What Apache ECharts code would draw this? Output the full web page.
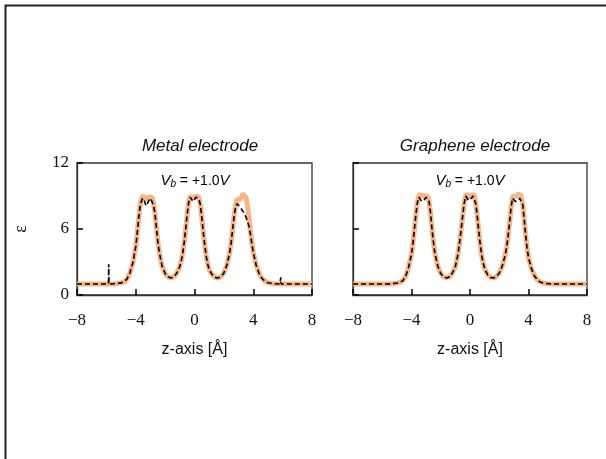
<!DOCTYPE html>
<html>
<head>
<meta charset="utf-8">
<script src="https://cdn.jsdelivr.net/npm/echarts@6/dist/echarts.min.js"></script>
<style>html,body{margin:0;padding:0;background:#fff;}#c{width:606px;height:459px;}</style>
</head>
<body>
<div id="c"></div>
<script>
// z grid (Å)
var z = [-8.0,-7.0,-6.0,-5.86,-5.84,-5.82,-5.7,-5.4,-5.0,-4.8,-4.6,-4.4,-4.2,-4.0,-3.9,-3.8,-3.7,-3.6,-3.5,-3.4,-3.3,-3.2,-3.1,-3.0,-2.9,-2.8,-2.7,-2.6,-2.5,-2.4,-2.2,-2.0,-1.8,-1.6,-1.4,-1.2,-1.0,-0.9,-0.8,-0.7,-0.6,-0.5,-0.4,-0.3,-0.2,-0.1,0.0,0.1,0.2,0.3,0.4,0.5,0.6,0.7,0.8,0.9,1.0,1.2,1.4,1.6,1.8,2.0,2.2,2.4,2.5,2.6,2.7,2.8,2.9,3.0,3.1,3.2,3.3,3.4,3.5,3.6,3.7,3.8,3.9,4.0,4.2,4.4,4.6,4.8,5.0,5.4,5.8,5.86,5.88,5.9,6.0,7.0,8.0];

// Metal electrode, reference (orange)
var metalRef = [1.0,1.0,1.0,1.0,1.0,1.0,1.0,1.02,
  1.1,1.2,1.45,2.0,2.9,4.4,5.6,7.0,8.1,8.8,9.0,8.9,8.7,8.7,8.9,9.0,8.9,8.4,7.5,6.2,4.9,3.9,2.6,1.95,
  1.65,1.55,1.65,2.0,2.6,3.1,3.8,4.8,6.0,7.3,8.4,9.0,9.1,8.8,8.8,9.0,9.1,8.9,8.2,7.0,5.7,4.5,3.5,2.8,2.3,1.85,
  1.6,1.55,1.65,2.0,2.7,3.9,4.8,6.0,7.2,8.2,8.7,8.8,8.7,8.9,9.2,9.2,8.9,8.2,7.1,5.9,4.8,3.9,2.7,1.95,1.5,1.25,1.12,1.03,
  1.0,1.0,1.0,1.0,1.0,1.0,1.0];
// Metal electrode, dashed (black)
var metalDash = [1.0,1.0,1.0,1.0,2.8,1.0,1.0,1.02,
  1.1,1.2,1.45,2.0,2.9,4.4,5.6,7.0,8.1,8.6,8.8,8.5,8.1,8.2,8.6,8.8,8.7,8.2,7.5,6.2,4.9,3.9,2.6,1.95,
  1.65,1.55,1.65,2.0,2.6,3.1,3.8,4.8,6.0,7.3,8.4,8.9,8.9,8.5,8.6,8.9,8.9,8.7,8.2,7.0,5.7,4.5,3.5,2.8,2.3,1.85,
  1.6,1.55,1.65,2.0,2.7,3.9,4.8,6.0,7.2,8.0,8.3,8.2,8.0,7.8,7.6,7.4,7.1,6.7,6.3,5.6,4.7,3.9,2.7,1.95,1.5,1.25,1.12,1.03,
  1.0,1.0,1.6,1.0,1.0,1.0,1.0];

// Graphene electrode, reference (orange)
var grapheneRef = [1.0,1.0,1.0,1.0,1.0,1.0,1.0,1.02,
  1.08,1.15,1.3,1.7,2.5,3.7,4.7,6.0,7.3,8.4,9.0,9.2,9.0,8.9,9.0,9.1,9.0,8.5,7.5,6.0,4.8,3.8,2.6,1.95,
  1.65,1.55,1.65,2.0,2.6,3.2,3.9,4.9,6.0,7.2,8.3,9.0,9.2,9.0,8.9,9.0,9.2,9.0,8.3,7.1,5.8,4.6,3.6,2.9,2.4,1.85,
  1.6,1.55,1.65,2.0,2.6,3.6,4.3,5.3,6.5,7.8,8.8,9.1,8.9,8.9,9.2,9.3,9.0,8.3,7.0,5.5,4.3,3.4,2.4,1.75,1.38,1.18,1.08,1.02,
  1.0,1.0,1.0,1.0,1.0,1.0,1.0];
// Graphene electrode, dashed (black)
var grapheneDash = [1.0,1.0,1.0,1.0,1.0,1.0,1.0,1.02,
  1.08,1.15,1.3,1.7,2.5,3.7,4.7,6.0,7.3,8.4,8.9,9.0,8.5,8.4,8.7,8.9,8.9,8.5,7.5,6.0,4.8,3.8,2.6,1.95,
  1.65,1.55,1.65,2.0,2.6,3.2,3.9,4.9,6.0,7.2,8.3,9.0,9.0,8.6,8.5,8.8,9.0,8.9,8.3,7.1,5.8,4.6,3.6,2.9,2.4,1.85,
  1.6,1.55,1.65,2.0,2.6,3.6,4.3,5.3,6.5,7.8,8.8,8.9,8.5,8.4,8.6,8.8,8.7,8.3,7.0,5.5,4.3,3.4,2.4,1.75,1.38,1.18,1.08,1.02,
  1.0,1.0,1.0,1.0,1.0,1.0,1.0];

var xTicks = [-8, -4, 0, 4, 8];
var yTicks = [0, 6, 12];
var panelTitles = ['Metal electrode', 'Graphene electrode'];
var xName = 'z-axis [Å]';
var yName = 'ε';

function pairs(xs, ys){ return xs.map(function(v,i){ return [v, ys[i]]; }); }

var chart = echarts.init(document.getElementById('c'));
var serif = '"Liberation Serif", "DejaVu Serif", serif';
var sans = '"Liberation Sans", Arial, sans-serif';

function xAx(idx){
  return {
    type:'value', gridIndex:idx, min:xTicks[0], max:xTicks[xTicks.length-1], interval:4,
    axisLine:{show:true, onZero:false, lineStyle:{color:'#333', width:1.3}}, splitLine:{show:false},
    axisTick:{show:true, inside:true, length:6, lineStyle:{color:'#000', width:1.5}},
    axisLabel:{fontFamily:serif, fontSize:17, color:'#111', margin:17,
      formatter:function(v){ return String(v).replace('-', '\u2212'); }},
    name:xName, nameLocation:'middle', nameGap:47,
    nameTextStyle:{fontFamily:sans, fontSize:16, color:'#111'}
  };
}
function yAx(idx, showLabel){
  return {
    type:'value', gridIndex:idx, min:yTicks[0], max:yTicks[yTicks.length-1], interval:6,
    axisLine:{show:true, onZero:false, lineStyle:{color:'#333', width:1.3}}, splitLine:{show:false},
    axisTick:{show:true, inside:true, length:6, lineStyle:{color:'#000', width:1.5}},
    axisLabel:{show:showLabel, fontFamily:serif, fontSize:17, color:'#111', margin:8},
    name: showLabel ? yName : '', nameLocation:'middle', nameGap:47, nameRotate:90,
    nameTextStyle:{fontFamily:serif, fontSize:18, color:'#111'}
  };
}
function refSeries(idx, data){
  return {type:'line', xAxisIndex:idx, yAxisIndex:idx, data:pairs(z,data), showSymbol:false,
    lineStyle:{color:'#f4b183', width:5, opacity:0.95}, z:2, animation:false};
}
function dashSeries(idx, data){
  return {type:'line', xAxisIndex:idx, yAxisIndex:idx, data:pairs(z,data), showSymbol:false,
    lineStyle:{color:'#000', width:1.6, type:[5,3]}, z:3, animation:false};
}

var vbRich = {
  v:{fontFamily:sans, fontStyle:'italic', fontSize:15, color:'#111'},
  s:{fontFamily:sans, fontStyle:'italic', fontSize:10, color:'#111', verticalAlign:'bottom', padding:[6,0,0,0]},
  t:{fontFamily:sans, fontSize:14, color:'#111'}
};
var vbText = '{v|V}{s|b}{t| = +1.0}{v|V}';

var titleStyle = {fontFamily:sans, fontStyle:'italic', fontWeight:'normal', fontSize:17, color:'#111'};

chart.setOption({
  animation:false,
  title:[
    {text:panelTitles[0], left:195, top:133, textAlign:'center', textStyle:titleStyle},
    {text:panelTitles[1], left:470, top:133, textAlign:'center', textStyle:titleStyle}
  ],
  grid:[
    {left:77, top:163, width:235, height:132, show:true, borderColor:'#333', borderWidth:1.3, backgroundColor:'transparent'},
    {left:353, top:163, width:234, height:132, show:true, borderColor:'#333', borderWidth:1.3, backgroundColor:'transparent'}
  ],
  xAxis:[xAx(0), xAx(1)],
  yAxis:[yAx(0,true), yAx(1,false)],
  series:[refSeries(0,metalRef), dashSeries(0,metalDash), refSeries(1,grapheneRef), dashSeries(1,grapheneDash)],
  graphic:[
    {type:'polyline', shape:{points:[[5.5,459],[5.5,5.5],[606,5.5]]}, style:{stroke:'#222', lineWidth:2, fill:null}},
    {type:'text', x:195, y:181, style:{text:vbText, rich:vbRich, align:'center', verticalAlign:'middle'}},
    {type:'text', x:470, y:181, style:{text:vbText, rich:vbRich, align:'center', verticalAlign:'middle'}}
  ]
});
</script>
</body>
</html>
